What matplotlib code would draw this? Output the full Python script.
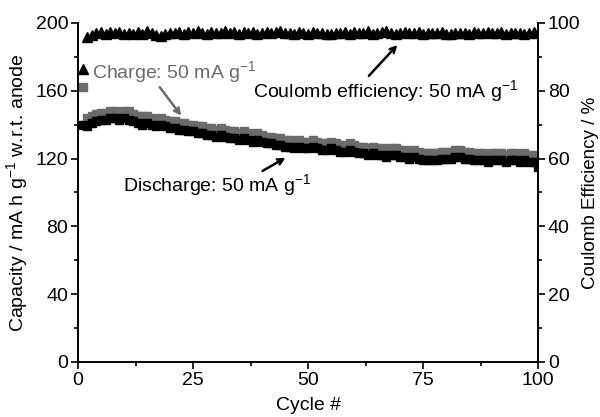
import numpy as np
import matplotlib.pyplot as plt
from matplotlib.ticker import MultipleLocator

plt.rcParams['font.family'] = ['Liberation Sans', 'DejaVu Sans']
plt.rcParams['mathtext.default'] = 'regular'

cycle = np.arange(1, 101)

discharge = [140, 139, 141, 142, 143, 143, 144, 144, 143, 144,
             143, 142, 141, 140, 141, 140, 139, 140, 139, 138,
             138, 137, 137, 136, 136, 135, 135, 134, 134, 133,
             134, 133, 132, 132, 131, 132, 131, 130, 131, 130,
             129, 129, 128, 128, 127, 127, 126, 127, 126, 126,
             127, 126, 125, 125, 126, 125, 124, 124, 125, 124,
             123, 123, 122, 123, 122, 122, 121, 122, 122, 121,
             121, 120, 121, 120, 119, 119, 119, 119, 120, 120,
             120, 121, 121, 120, 120, 119, 119, 119, 118, 119,
             119, 119, 118, 119, 119, 118, 119, 118, 118, 115]

charge = [162, 144, 145, 146, 147, 147, 148, 148, 147, 148,
          148, 146, 145, 145, 145, 144, 143, 144, 143, 142,
          142, 141, 141, 140, 140, 139, 139, 138, 138, 137,
          138, 137, 136, 136, 135, 136, 135, 134, 135, 134,
          133, 133, 132, 132, 131, 131, 130, 131, 130, 130,
          131, 130, 129, 129, 130, 129, 128, 128, 129, 128,
          127, 127, 126, 127, 126, 126, 125, 126, 126, 125,
          125, 124, 125, 124, 123, 123, 123, 123, 124, 124,
          124, 125, 125, 124, 124, 123, 123, 123, 122, 123,
          123, 123, 122, 123, 123, 122, 123, 122, 122, 121]

efficiency = [86.4, 95.8, 96.5, 96.9, 97.2, 96.8, 97.4, 96.9, 97.3, 96.7,
              97.0, 96.6, 97.2, 96.8, 97.5, 96.9, 96.4, 96.1, 96.8, 97.1,
              96.9, 97.4, 96.8, 97.2, 97.0, 97.6, 97.1, 96.8, 97.3, 97.0,
              96.9, 97.5, 97.1, 97.3, 96.8, 97.4, 97.0, 97.2, 96.7, 97.1,
              97.4, 96.9, 97.2, 97.6, 96.9, 97.1, 96.8, 97.3, 97.0, 96.8,
              97.2, 96.9, 97.0, 96.7, 96.6, 97.1, 96.9, 97.4, 96.8, 97.3,
              96.9, 97.1, 97.5, 96.8, 97.0, 97.2, 97.7, 97.1, 96.6, 96.9,
              97.2, 97.0, 96.9, 97.3, 96.8, 97.1, 97.0, 96.9, 97.2, 96.7,
              96.8, 97.1, 96.9, 97.0, 96.8, 97.2, 96.9, 97.1, 97.3, 96.9,
              97.0, 97.2, 96.8, 97.1, 96.9, 97.0, 96.8, 97.1, 97.3, 96.9]

grey = '#6b6b6b'
fontSize = 14

fig = plt.figure(figsize=(6, 4.17), dpi=100)
ax = fig.add_axes([0.13, 0.132, 0.767, 0.813])
ax2 = ax.twinx()

ax.plot(cycle, charge, linestyle='none', marker='s', markersize=5.5, color=grey)
ax.plot(cycle, discharge, linestyle='none', marker='s', markersize=5.5, color='black')
ax2.plot(cycle, efficiency, linestyle='none', marker='^', markersize=6.5, color='black')

ax.set_xlim(0, 100)
ax.set_ylim(0, 200)
ax2.set_ylim(0, 100)

ax.xaxis.set_major_locator(MultipleLocator(25))
ax.xaxis.set_minor_locator(MultipleLocator(12.5))
ax.yaxis.set_major_locator(MultipleLocator(40))
ax.yaxis.set_minor_locator(MultipleLocator(20))
ax2.yaxis.set_major_locator(MultipleLocator(20))
ax2.yaxis.set_minor_locator(MultipleLocator(10))

for a in (ax, ax2):
    a.spines['top'].set_visible(False)
    a.tick_params(which='major', length=5, width=1.2, labelsize=fontSize, pad=2)
    a.tick_params(which='minor', length=3, width=1.2)
    for s in a.spines.values():
        s.set_linewidth(1.2)

ax.set_xlabel('Cycle #', fontsize=fontSize, labelpad=6)
ax.set_ylabel('Capacity / mA h g$^{-1}$ w.r.t. anode', fontsize=fontSize, labelpad=4)
ax2.set_ylabel('Coulomb Efficiency / %', fontsize=13.5, labelpad=1)

ax.text(3.0, 171, 'Charge: 50 mA g$^{-1}$', color=grey, fontsize=fontSize, va='center')
ax.annotate('', xy=(22.8, 144), xytext=(17.4, 163.4),
            arrowprops=dict(arrowstyle='->', color=grey, lw=1.8))
ax.text(9.8, 104.5, 'Discharge: 50 mA g$^{-1}$', color='black', fontsize=fontSize, va='center')
ax.annotate('', xy=(45.6, 121.3), xytext=(39.6, 111.9),
            arrowprops=dict(arrowstyle='->', color='black', lw=1.8))
ax.text(38, 160, 'Coulomb efficiency: 50 mA g$^{-1}$', color='black', fontsize=fontSize, va='center')
ax.annotate('', xy=(69.8, 188.2), xytext=(62.8, 167.6),
            arrowprops=dict(arrowstyle='->', color='black', lw=1.8))

fig.savefig('out.png', dpi=100)
